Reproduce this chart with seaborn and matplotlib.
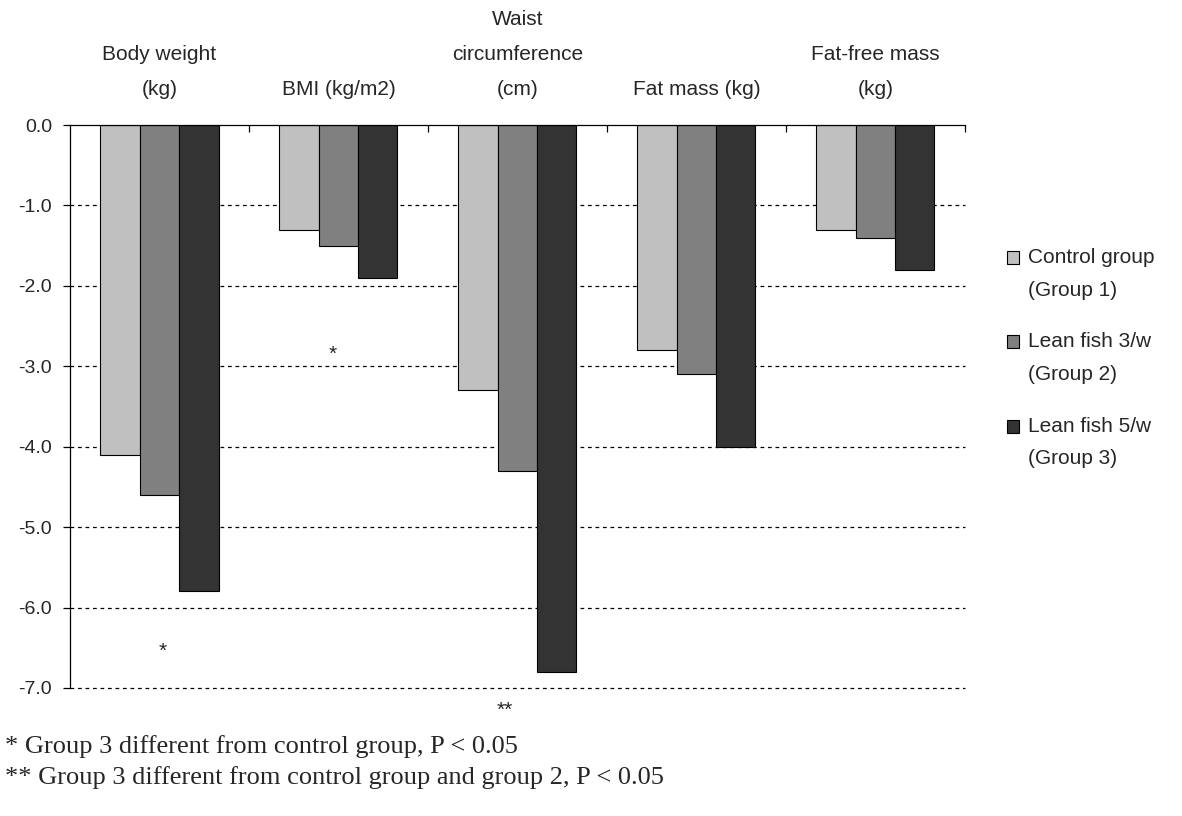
import matplotlib
matplotlib.use("Agg")
import matplotlib.pyplot as plt
import seaborn as sns
import pandas as pd
from matplotlib.patches import Patch, Rectangle
from matplotlib.legend_handler import HandlerPatch

categories = ["Body weight\n(kg)", "BMI (kg/m2)", "Waist\ncircumference\n(cm)", "Fat mass (kg)", "Fat-free mass\n(kg)"]
groups = ["Control group\n(Group 1)", "Lean fish 3/w\n(Group 2)", "Lean fish 5/w\n(Group 3)"]
group1 = [-4.1, -1.3, -3.3, -2.8, -1.3]
group2 = [-4.6, -1.5, -4.3, -3.1, -1.4]
group3 = [-5.8, -1.9, -6.8, -4.0, -1.8]
colors = ["#C0C0C0", "#808080", "#333333"]
yticks = [0.0, -1.0, -2.0, -3.0, -4.0, -5.0, -6.0, -7.0]
# significance markers: (category position, y value, text)
sig_x = [0.02, 0.97, 1.93]
sig_y = [-6.55, -2.85, -7.28]
sig_txt = ["*", "*", "**"]
footnotes = ["* Group 3 different from control group, P < 0.05",
             "** Group 3 different from control group and group 2, P < 0.05"]

sns.set_style("white")
plt.rcParams['font.family'] = ['Liberation Sans', 'DejaVu Sans']
plt.rcParams['axes.unicode_minus'] = False
FS = 15

rows = []
for vals, g in zip([group1, group2, group3], groups):
    for c, v in zip(categories, vals):
        rows.append({"cat": c, "grp": g, "val": v})
df = pd.DataFrame(rows)

fig = plt.figure(figsize=(11.82, 8.16), dpi=100)
ax = fig.add_axes([0.0592, 0.1569, 0.757, 0.6899])

sns.barplot(data=df, x="cat", y="val", hue="grp", order=categories, hue_order=groups,
            palette=colors, width=0.66, edgecolor="black", linewidth=0.8,
            saturation=1, legend=False, ax=ax)

ax.set_ylim(-7, 0)
ax.set_xlim(-0.5, 4.5)
ax.set_yticks(yticks)
ax.set_yticklabels([f"{t:.1f}" for t in yticks], fontsize=14)
for t in yticks[1:]:
    ax.axhline(t, color="black", linestyle=(0, (3, 3)), linewidth=0.9, zorder=0, clip_on=False)

ax.xaxis.tick_top()
ax.set_xticks(range(len(categories)))
ax.set_xticklabels(categories, fontsize=FS, va="bottom")
for lab in ax.get_xticklabels():
    lab.set_linespacing(2.05)
ax.tick_params(axis="x", which="major", length=0, pad=19)
ax.set_xticks([0.5, 1.5, 2.5, 3.5, 4.5], minor=True)
ax.tick_params(axis="x", which="minor", direction="in", length=5, width=0.9, color="black", top=True, bottom=False)
ax.tick_params(axis="y", direction="out", length=5, width=0.9, color="black", left=True, labelsize=14, pad=8)
ax.set_xlabel("")
ax.set_ylabel("")

for s in ["bottom", "right"]:
    ax.spines[s].set_visible(False)
for s in ["top", "left"]:
    ax.spines[s].set_color("black")
    ax.spines[s].set_linewidth(0.9)

for x, y, t in zip(sig_x, sig_y, sig_txt):
    ax.text(x, y, t, ha="center", va="center", fontsize=15, clip_on=False)


def top_square(legend, orig_handle, xdescent, ydescent, width, height, fontsize):
    return Rectangle((-xdescent, -ydescent + 12), width, height)


handles = [Patch(facecolor=col, edgecolor="black", linewidth=0.8) for col in colors]
leg = fig.legend(handles, groups, loc="center left", bbox_to_anchor=(0.836, 0.561), frameon=False,
                 fontsize=FS, handlelength=0.6, handleheight=0.6, handletextpad=0.4, labelspacing=1.58,
                 handler_map={Patch: HandlerPatch(patch_func=top_square)})
for t in leg.get_texts():
    t.set_linespacing(1.9)

fig.text(0.004, 0.0846, footnotes[0], fontsize=19, family=["Liberation Serif"], va="center")
fig.text(0.004, 0.0466, footnotes[1], fontsize=19, family=["Liberation Serif"], va="center")

fig.savefig("out.png", dpi=100)
